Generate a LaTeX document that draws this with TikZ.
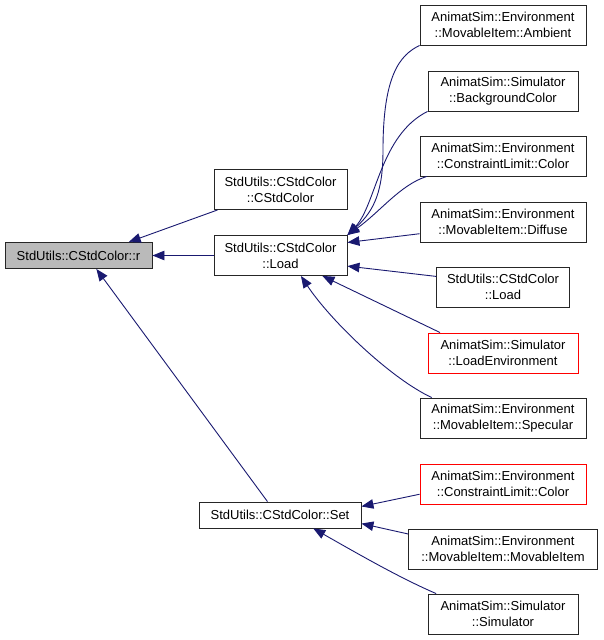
\documentclass[tikz,border=0pt]{standalone}
\usepackage{fontspec}
\setmainfont{Liberation Sans}
\usetikzlibrary{arrows.meta}
\definecolor{edgeblue}{HTML}{191970}

\begin{document}
\begin{tikzpicture}[x=1pt, y=-1pt, >={Triangle[length=12pt, width=9.5pt]},
	fn/.style={draw=black!85, line width=0.9pt, inner sep=0pt, align=center, minimum height=40pt, font=\fontsize{13}{16}\selectfont},
	call/.style={edgeblue, line width=0.9pt, <-}]
	\useasboundingbox (0, 0) rectangle (603, 640);

	\node[fn, fill=black!27, minimum width=147pt, minimum height=26pt] (r) at (78.5, 255.5) {StdUtils::CStdColor::r};

	\node[fn, minimum width=133pt] (cstd) at (280.5, 189.5) {StdUtils::CStdColor\\::CStdColor};
	\node[fn, minimum width=133pt] (load) at (280.5, 255.5) {StdUtils::CStdColor\\::Load};
	\node[fn, minimum width=162pt, minimum height=26pt] (set) at (280, 515) {StdUtils::CStdColor::Set};

	\node[fn, minimum width=166pt] (amb) at (503, 25) {AnimatSim::Environment\\::MovableItem::Ambient};
	\node[fn, minimum width=150pt] (bgcol) at (503, 91) {AnimatSim::Simulator\\::BackgroundColor};
	\node[fn, minimum width=166pt] (lim) at (503, 156) {AnimatSim::Environment\\::ConstraintLimit::Color};
	\node[fn, minimum width=166pt] (diff) at (503, 222) {AnimatSim::Environment\\::MovableItem::Diffuse};
	\node[fn, minimum width=133pt] (loadb) at (503, 287) {StdUtils::CStdColor\\::Load};
	\node[fn, draw=red, minimum width=150pt] (loadenv) at (503, 353) {AnimatSim::Simulator\\::LoadEnvironment};
	\node[fn, minimum width=166pt] (spec) at (503, 418) {AnimatSim::Environment\\::MovableItem::Specular};

	\node[fn, draw=red, minimum width=166pt] (limb) at (503, 484) {AnimatSim::Environment\\::ConstraintLimit::Color};
	\node[fn, minimum width=189pt] (mov) at (503, 549) {AnimatSim::Environment\\::MovableItem::MovableItem};
	\node[fn, minimum width=150pt] (sim) at (503, 614) {AnimatSim::Simulator\\::Simulator};

	% callers of r
	\draw[call] (r.15) -- (cstd.198);
	\draw[call] (r.east) -- (load.west);
	\draw[call] (r.-37) -- (set.133);

	% callers of Load
	\draw[call] (load.north east) .. controls (375, 210) and (383, 190) .. (383, 150) .. controls (383, 75) and (400, 55) .. (amb.south west);
	\draw[call] (load.north east) .. controls (376, 205) and (380, 135) .. (bgcol.south west);
	\draw[call] (load.north east) .. controls (380, 212) and (400, 185) .. (lim.195);
	\draw[call] (load.11) -- (diff.188);
	\draw[call] (load.-9) -- (loadb.171);
	\draw[call] (load.-26) -- (loadenv.162);
	\draw[call] (load.-45) .. controls (330, 320) and (390, 378) .. (spec.164);

	% callers of Set
	\draw[call] (set.6) -- (limb.187);
	\draw[call] (set.-6) -- (mov.171);
	\draw[call] (set.-22) .. controls (360, 555) and (400, 578) .. (sim.163);
\end{tikzpicture}
\end{document}
